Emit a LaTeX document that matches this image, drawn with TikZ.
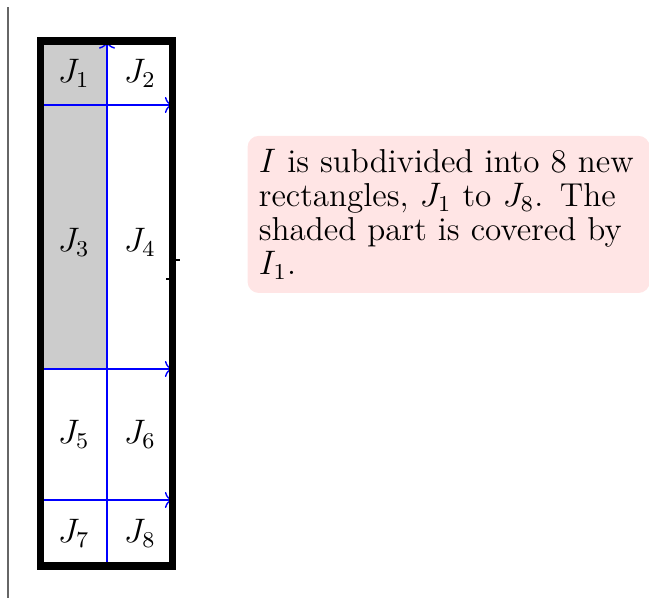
\documentclass[tikz,border=0pt]{standalone}
\usepackage{tikz}
\usetikzlibrary{positioning}
\usetikzlibrary{calc}
\usetikzlibrary{arrows.meta}
\usepackage{amsmath}

\tikzset{
    cut/.style={draw=blue, ->, line width=0.5pt},
    note/.style={fill=red!10, rounded corners=4pt, inner sep=4pt, text width=4.71cm, align=left, minimum height=1.95cm}
}

\begin{document}
\begin{tikzpicture}[font=\fontsize{11.7pt}{11.9pt}\selectfont]
    \useasboundingbox (0,0) rectangle (8.054,7.421);
    \draw[gray!80!black, line width=0.4pt] (0.099,7.334) -- (0.099,0);
    % shaded part
    \fill[black!20] (0.503,2.842) rectangle (1.328,6.912);
    % the grid
    \coordinate (bl) at (0.503,0.397);
    \coordinate (tr) at (2.141,6.912);
    \coordinate (vb) at (1.328,0.397);
    \coordinate (vt) at (1.328,6.912);
    \foreach \y/\n in {6.118/a, 2.842/b, 1.216/c} {
        \coordinate (h\n l) at (0.503,\y);
        \coordinate (h\n r) at (2.141,\y);
        \draw[cut] (h\n l) -- (h\n r);
    }
    \draw[cut] (vb) -- (vt);
    \draw[line width=2.7pt] (bl) rectangle (tr);
    \draw (2.18,4.195) -- (2.234,4.195);
    \draw (2.06,3.959) -- (2.11,3.959);
    % labels
    \foreach \y/\a/\b in {6.515/1/2, 4.418/3/4, 2.029/5/6, 0.807/7/8} {
        \node (J\a) at (0.915,\y) {$J_{\a}$};
        \node (J\b) at (1.735,\y) {$J_{\b}$};
    }
    \node[note, anchor=west] (info) at (3.065,4.76) {$I$ is subdivided into 8 new rectangles, $J_1$ to $J_8$. The shaded part is covered by\\ $I_1$.};
\end{tikzpicture}
\end{document}
